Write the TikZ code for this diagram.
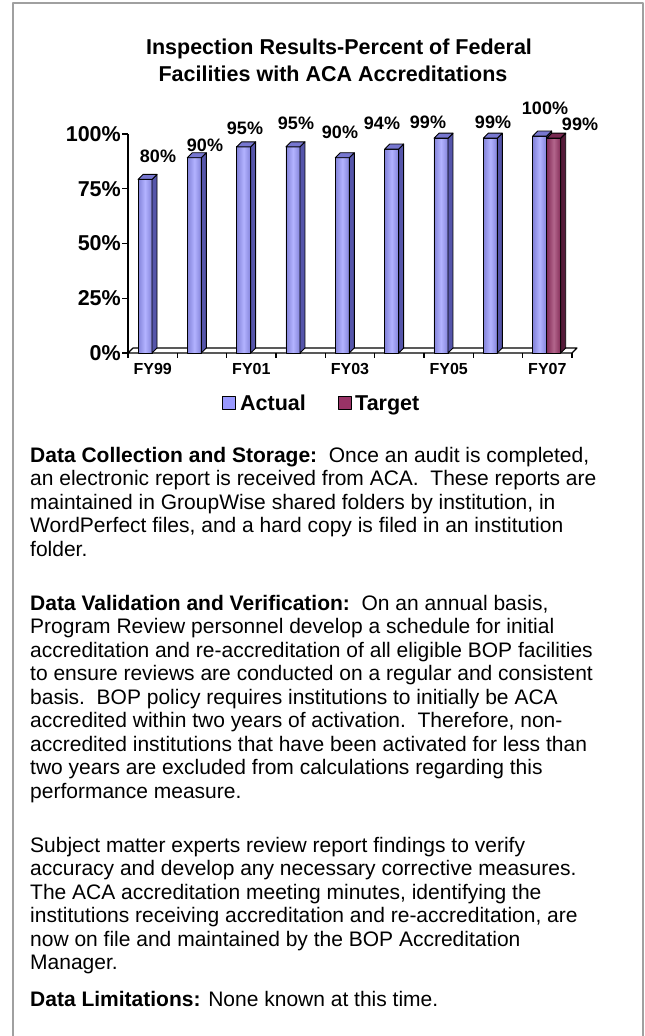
\documentclass[tikz,border=0pt]{standalone}
\usepackage{fontspec}
\setmainfont{Liberation Sans}
\definecolor{actF}{HTML}{9999FF}
\definecolor{actS}{HTML}{5555AA}
\definecolor{actT}{HTML}{7777D0}
\definecolor{tgtF}{HTML}{993366}
\definecolor{tgtS}{HTML}{551A38}
\definecolor{tgtT}{HTML}{772850}
\definecolor{frameclr}{HTML}{A0A0A0}
\newcommand{\cbar}[4]{%
  \pgfmathsetmacro{\yt}{353-2.17*#2}%
  \path[barline, left color=#3!85!black, right color=#3!85!black, middle color=#3!75!white] (#1,353) rectangle (#1+14,\yt);
  \path[barline, fill=#4S] (#1+14,353) -- (#1+19,348) -- (#1+19,\yt-5) -- (#1+14,\yt) -- cycle;
  \path[barline, fill=#4T] (#1,\yt) -- (#1+5,\yt-5) -- (#1+19,\yt-5) -- (#1+14,\yt) -- cycle;
}
\begin{document}
\begin{tikzpicture}[x=1pt,y=-1pt,line join=round,
  barline/.style={draw=black,line width=0.9pt},
  axisline/.style={draw=black,line width=1.1pt},
  ttl/.style={font=\bfseries\fontsize{21.5}{27}\selectfont,anchor=base,inner sep=0pt},
  vlbl/.style={font=\bfseries\fontsize{18}{20}\selectfont,inner sep=0pt},
  ylbl/.style={font=\bfseries\fontsize{21.5}{24}\selectfont,anchor=east,inner sep=0pt},
  xlbl/.style={font=\bfseries\fontsize{16}{18}\selectfont,inner sep=0pt},
  leg/.style={font=\bfseries\fontsize{21.5}{24}\selectfont,anchor=base west,inner sep=0pt},
  legbox/.style={draw=black,line width=1pt},
  body/.style={font=\fontsize{21}{23.5}\selectfont,anchor=north west,align=left,inner sep=0pt}]
\useasboundingbox (0,0) rectangle (645,1036);
\fill[white] (0,0) rectangle (645,1036);
\draw[frameclr,line width=2.2pt] (13,1036) -- (13,3) -- (643,3) -- (643,1036);
% title
\node[ttl] (t1) at (339,54) {Inspection Results-Percent of Federal};
\node[ttl] (t2) at (333,81) {Facilities with ACA Accreditations};
% axes and floor
\draw[axisline] (128,134) -- (128,353);
\foreach \y/\t [count=\k] in {134/100\%,188.75/75\%,243.5/50\%,298.25/25\%,353/0\%}{
  \draw[axisline] (122,\y) -- (128,\y);
  \node[ylbl] (y\k) at (121,\y) {\t};
}
\draw[axisline] (128,353) -- (572,353) -- (577,348) -- (133,348) -- cycle;
\foreach \i in {0,...,9}{\draw[axisline] (128+49.33*\i,353) -- (128+49.33*\i,358);}
% bars
\foreach \v [count=\i from 0] in {80,90,95,95,90,94,99,99,100}{
  \pgfmathsetmacro{\bx}{138+49.33*\i}
  \cbar{\bx}{\v}{actF}{act}
}
\cbar{546.7}{99}{tgtF}{tgt}
% value labels
\node[vlbl] (v1) at (158,156) {80\%};
\node[vlbl] (v2) at (205,145) {90\%};
\node[vlbl] (v3) at (245,128) {95\%};
\node[vlbl] (v4) at (296,123) {95\%};
\node[vlbl] (v5) at (340,132) {90\%};
\node[vlbl] (v6) at (382,123) {94\%};
\node[vlbl] (v7) at (428,122) {99\%};
\node[vlbl] (v8) at (493,122) {99\%};
\node[vlbl] (v9) at (545,108) {100\%};
\node[vlbl] (v10) at (580,124) {99\%};
% category labels
\foreach \t [count=\k from 0] in {FY99,FY01,FY03,FY05,FY07}{
  \node[xlbl] (x\k) at (152.7+98.66*\k,369) {\t};
}
% legend
\draw[legbox,fill=actF] (222,396) rectangle (235,409);
\node[leg] (la) at (240,410) {Actual};
\draw[legbox,fill=tgtF] (338,396) rectangle (351,409);
\node[leg] (lt) at (355,410) {Target};
% body text
\node[body] (p1) at (30,447) {\textbf{Data Collection and Storage:}\ \ Once an audit is completed,\\
an electronic report is received from ACA.\ \ These reports are\\
maintained in GroupWise shared folders by institution, in\\
WordPerfect files, and a hard copy is filed in an institution\\
folder.};
\node[body] (p2) at (30,595) {\textbf{Data Validation and Verification:}\ \ On an annual basis,\\
Program Review personnel develop a schedule for initial\\
accreditation and re-accreditation of all eligible BOP facilities\\
to ensure reviews are conducted on a regular and consistent\\
basis.\ \ BOP policy requires institutions to initially be ACA\\
accredited within two years of activation.\ \ Therefore, non-\\
accredited institutions that have been activated for less than\\
two years are excluded from calculations regarding this\\
performance measure.};
\node[body] (p3) at (30,837) {Subject matter experts review report findings to verify\\
accuracy and develop any necessary corrective measures.\\
The ACA accreditation meeting minutes, identifying the\\
institutions receiving accreditation and re-accreditation, are\\
now on file and maintained by the BOP Accreditation\\
Manager.};
\node[body] (p4) at (30,991) {\textbf{Data Limitations:} None known at this time.};
\end{tikzpicture}
\end{document}
